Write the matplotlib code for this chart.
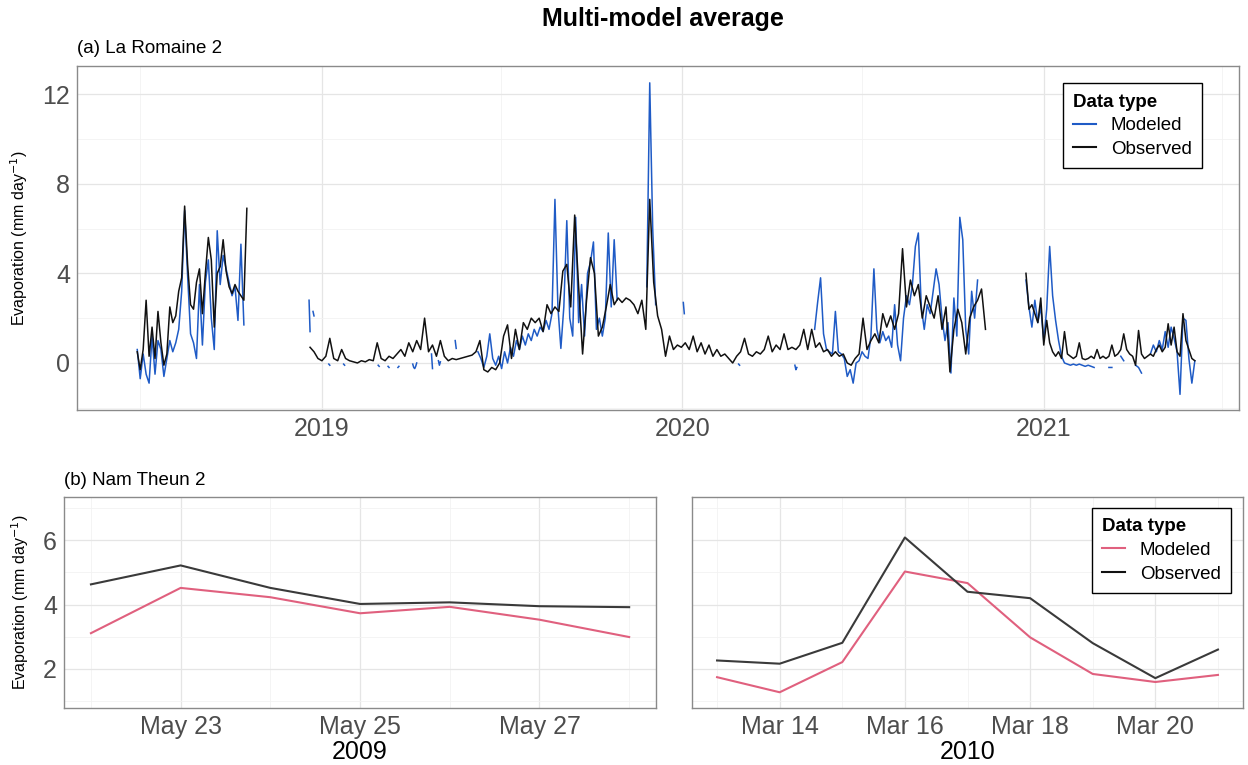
import numpy as np
import pandas as pd
import matplotlib
matplotlib.use("Agg")
import matplotlib.pyplot as plt
import matplotlib.dates as mdates
from matplotlib.lines import Line2D
from matplotlib.ticker import MultipleLocator

plt.rcParams['font.family'] = ['Liberation Sans', 'DejaVu Sans']

# ---- (a) La Romaine 2 : daily evaporation ----
# observed, summer 2018 (every 3 days)
obs_a_start = "2018-06-28"
obs_a = [0.5, -0.3, 0.6, 2.8, 0.3, 1.6, 0.2, 2.3, 0.9, -0.1,
         0.4, 2.5, 1.8, 2.1, 3.2, 3.8, 7.0, 4.4, 2.6, 2.4,
         3.6, 4.2, 2.2, 4.0, 5.6, 4.6, 1.6, 4.0, 4.3, 5.5,
         4.1, 3.4, 3.1, 3.5, 3.2, 3.0, 2.8, 6.9]
mod_a = [0.6, -0.7, 0.4, -0.5, -0.9, 1.2, -0.5, 1.0, 0.6, -0.6,
         0.2, 1.0, 0.5, 0.9, 1.5, 3.2, 6.8, 3.9, 1.3, 0.9,
         0.2, 3.5, 0.8, 3.6, 4.6, 2.0, 0.6, 5.9, 3.5, 4.8,
         4.2, 3.6, 3.0, 3.4, 1.9, 5.3, 1.7]

# observed, Dec 2018 - Nov 2020 (every 4 days)
obs_b_start = "2018-12-20"
obs_b = [0.7, 0.5, 0.2, 0.1, 0.3, 1.1, 0.2, 0.1, 0.6, 0.2,
         0.1, 0.05, 0.0, 0.1, 0.05, 0.15, 0.1, 0.9, 0.2, 0.1,
         0.3, 0.2, 0.4, 0.6, 0.3, 0.9, 0.5, 1.0, 0.6, 2.0,
         0.5, 0.8, 0.3, 1.0, 0.3, 0.1, 0.2, 0.15, 0.2, 0.25,
         0.3, 0.35, 0.5, 1.0, -0.3, -0.4, -0.2, -0.3, 0.0, 1.2,
         1.7, 0.2, 1.5, 0.6, 1.8, 1.5, 2.0, 1.8, 2.0, 1.4,
         2.6, 2.2, 2.5, 2.3, 4.1, 4.4, 2.5, 6.6, 3.4, 0.4,
         2.8, 4.7, 4.0, 1.2, 1.6, 2.5, 3.5, 2.6, 2.9, 2.7,
         2.9, 2.8, 2.6, 2.2, 2.8, 1.5, 7.3, 3.6, 2.1, 1.5,
         0.3, 1.2, 0.6, 0.8, 0.7, 0.9, 0.6, 1.2, 0.5, 0.9,
         0.4, 0.8, 0.3, 0.6, 0.3, 0.4, 0.2, 0.0, 0.3, 0.5,
         1.1, 0.4, 0.3, 0.5, 0.4, 0.6, 1.2, 0.5, 0.8, 0.6,
         1.3, 0.6, 0.7, 0.6, 0.8, 1.5, 0.6, 1.5, 0.7, 0.9,
         0.5, 0.6, 0.3, 0.5, 0.3, 0.4, 0.0, -0.1, 0.2, 0.4,
         2.0, 0.6, 1.0, 1.3, 0.9, 2.2, 1.6, 2.1, 1.5, 2.2,
         5.1, 2.5, 3.7, 3.0, 3.5, 2.0, 3.0, 2.5, 2.0, 3.0,
         1.5, 2.5, -0.4, 1.5, 2.4, 1.8, 0.4, 2.0, 2.5, 2.8,
         3.3, 1.5]

# modeled, open-water 2019 (every 3 days)
mod_b_start = "2019-06-08"
mod_b = [0.5, 0.2, -0.2, 0.3, 1.3, 0.2, -0.1, 0.3, -0.25, 0.5,
         0.0, 0.7, 0.3, 1.0, 0.6, 1.2, 0.8, 1.3, 1.0, 1.5,
         1.2, 1.6, 1.4, 1.9, 1.5, 2.2, 7.3, 2.5, 0.65, 2.5,
         6.35, 2.0, 1.2, 6.5, 1.8, 3.5, 1.2, 4.0, 4.5, 5.4,
         1.5, 2.0, 1.2, 2.0, 5.8, 2.5, 5.5, 2.8, np.nan, np.nan,
         np.nan, np.nan, np.nan, np.nan, np.nan, np.nan, np.nan, 3.4, 12.5, 6.0,
         2.6]

# modeled, open-water 2020 (every 3 days)
mod_c_start = "2020-05-14"
mod_c = [1.5, 2.7, 3.8, 1.3, 0.6, 0.5, 0.4, 2.3, 0.5, 0.4,
         0.2, -0.6, -0.3, -0.9, 0.0, 0.1, 0.5, 0.3, 0.2, 1.2,
         4.2, 1.5, 0.9, 1.4, 1.0, 1.2, 0.7, 2.6, 0.8, 0.1,
         2.0, 3.0, 2.6, 3.5, 5.2, 5.8, 2.5, 1.5, 2.6, 2.2,
         3.2, 4.2, 3.5, 2.0, 1.0, 1.8, -0.45, 2.9, 1.2, 6.5,
         5.5, 1.5, 0.4, 3.2, 2.0, 3.7]

# Dec 2020 - Jun 2021 (every 3 days)
c_start = "2020-12-14"
obs_c = [4.0, 2.4, 2.6, 2.2, 1.8, 2.9, 0.8, 1.9, 0.9, 0.5,
         0.3, 0.5, 0.2, 1.4, 0.4, 0.3, 0.2, 0.3, 0.9, 0.2,
         0.15, 0.2, 0.3, 0.2, 0.6, 0.2, 0.3, 0.2, 0.3, 0.8,
         0.3, 0.4, 0.6, 1.3, 0.6, 0.4, 0.3, -0.1, 1.45, 0.4,
         0.2, 0.3, 0.4, 0.3, 0.6, 0.8, 0.5, 0.7, 1.75, 0.8,
         1.6, 0.5, 0.3, 2.2, 1.0, 0.6, 0.2, 0.1]
mod_d = [3.7, 2.5, 1.6, 2.8, 1.8, 2.5, 1.0, 2.4, 5.2, 3.0,
         1.9, 1.0, 0.3, 0.0, -0.05, -0.1, -0.05, -0.1, -0.05, -0.1,
         -0.15, -0.1, -0.15, -0.2, np.nan, np.nan, -0.25, np.nan, -0.2, -0.2,
         np.nan, np.nan, 0.3, 0.1, np.nan, np.nan, np.nan, -0.1, -0.2, -0.45,
         np.nan, np.nan, 0.4, 0.8, 0.5, 1.0, 0.6, 1.4, 0.7, 1.6,
         1.1, 0.5, -1.4, 2.0, 1.9, 0.2, -0.9, 0.1]

# short modeled fragments during ice cover (daily)
bit_starts = ["2018-12-19", "2018-12-23", "2019-01-08", "2019-01-23", "2019-02-27",
              "2019-03-09", "2019-03-19", "2019-04-03", "2019-04-22", "2019-04-29",
              "2019-05-16", "2020-01-02", "2020-02-27", "2020-04-24"]
bit_values = [[2.8, 1.4], [2.3, 2.1], [-0.05, -0.1], [-0.05, -0.1], [-0.1, -0.15],
              [-0.15, -0.2], [-0.2, -0.15], [-0.05, -0.2, -0.25, -0.15, 0.0], [0.4, -0.25],
              [0.1, -0.1, 0.05], [1.0, 0.65], [2.7, 2.2], [-0.05, -0.1], [-0.1, -0.3, -0.2]]

# ---- (b) Nam Theun 2 ----
nt_2009_dates = ["2009-05-22", "2009-05-23", "2009-05-24", "2009-05-25",
                 "2009-05-26", "2009-05-27", "2009-05-28"]
nt_2009_obs = [4.63, 5.22, 4.52, 4.02, 4.07, 3.95, 3.92]
nt_2009_mod = [3.11, 4.52, 4.23, 3.73, 3.93, 3.53, 2.99]

nt_2010_dates = ["2010-03-13", "2010-03-14", "2010-03-15", "2010-03-16", "2010-03-17",
                 "2010-03-18", "2010-03-19", "2010-03-20", "2010-03-21"]
nt_2010_obs = [2.26, 2.16, 2.81, 6.09, 4.40, 4.20, 2.80, 1.71, 2.60]
nt_2010_mod = [1.74, 1.27, 2.21, 5.03, 4.67, 2.98, 1.84, 1.59, 1.81]

BLUE = "#1f5bc6"
PINK = "#e0607e"
DARK = "#111111"
GREY_OBS = "#3a3a3a"
TICK_COL = "#4d4d4d"


def seg(start, step, vals):
    return pd.date_range(start, periods=len(vals), freq=f"{step}D"), np.array(vals, float)


def style(ax):
    for s in ax.spines.values():
        s.set_color("#8a8a8a")
        s.set_linewidth(1.0)
    ax.grid(which="major", color="#e5e5e5", lw=0.9)
    ax.grid(which="minor", color="#f2f2f2", lw=0.6)
    ax.set_axisbelow(True)
    ax.tick_params(which="both", length=0, labelsize=18, labelcolor=TICK_COL, pad=5)


def legend(ax, col, x0, y1):
    hs = [Line2D([], [], color=col, lw=1.5), Line2D([], [], color=DARK, lw=1.5)]
    lg = ax.legend(hs, ["Modeled", "Observed"], title="Data type", loc="upper left",
                   bbox_to_anchor=(x0, y1), fontsize=13.5, title_fontsize=13.5,
                   frameon=True, fancybox=False, edgecolor="black", framealpha=1,
                   handlelength=1.2, handletextpad=0.8, borderpad=0.55,
                   labelspacing=0.35, borderaxespad=0, alignment="left")
    lg.get_title().set_fontweight("bold")
    lg.get_frame().set_linewidth(1.0)


fig = plt.figure(figsize=(12.48, 7.65), dpi=100)
fig.text(0.531, 0.975, "Multi-model average", ha="center", va="center",
         fontsize=18, fontweight="bold")

# top panel
ax = fig.add_axes([0.0617, 0.464, 0.9313, 0.4497])
style(ax)
ax.set_xlim(pd.Timestamp("2018-04-28"), pd.Timestamp("2021-07-18"))
ax.set_ylim(-2.1, 13.25)
ax.yaxis.set_major_locator(MultipleLocator(4))
ax.yaxis.set_minor_locator(MultipleLocator(2))
ax.xaxis.set_major_locator(mdates.YearLocator())
ax.xaxis.set_minor_locator(mdates.MonthLocator(bymonth=7))
ax.xaxis.set_major_formatter(mdates.DateFormatter("%Y"))

lw = 1.1
for start, step, vals in [(obs_a_start, 3, mod_a), (mod_b_start, 3, mod_b),
                          (mod_c_start, 3, mod_c), (c_start, 3, mod_d)]:
    d, v = seg(start, step, vals)
    ax.plot(d, v, color=BLUE, lw=lw)
for start, vals in zip(bit_starts, bit_values):
    d, v = seg(start, 1, vals)
    ax.plot(d, v, color=BLUE, lw=lw)
for start, step, vals in [(obs_a_start, 3, obs_a), (obs_b_start, 4, obs_b), (c_start, 3, obs_c)]:
    d, v = seg(start, step, vals)
    ax.plot(d, v, color=DARK, lw=lw)
ax.set_ylabel("Evaporation (mm day$^{-1}$)", fontsize=11.5, labelpad=9)
ax.text(0.0, 1.025, "(a) La Romaine 2", transform=ax.transAxes, fontsize=13.5,
        ha="left", va="bottom")
legend(ax, BLUE, 0.8485, 0.95)

# bottom left: 2009
bl = fig.add_axes([0.0513, 0.0745, 0.4744, 0.2758])
style(bl)
d09 = pd.to_datetime(nt_2009_dates)
bl.plot(d09, nt_2009_mod, color=PINK, lw=1.5)
bl.plot(d09, nt_2009_obs, color=GREY_OBS, lw=1.5)
bl.set_xlim(d09[0] - pd.Timedelta(hours=7.2), d09[-1] + pd.Timedelta(hours=7.2))
bl.set_ylim(0.78, 7.35)
bl.yaxis.set_major_locator(MultipleLocator(2))
bl.yaxis.set_minor_locator(MultipleLocator(1))
bl.xaxis.set_major_locator(mdates.DayLocator(bymonthday=[23, 25, 27]))
bl.xaxis.set_minor_locator(mdates.DayLocator(bymonthday=[22, 24, 26, 28]))
bl.xaxis.set_major_formatter(mdates.DateFormatter("%b %d"))
bl.set_xlabel("2009", fontsize=18, labelpad=1)
bl.set_ylabel("Evaporation (mm day$^{-1}$)", fontsize=11.5, labelpad=9)
bl.text(0.0, 1.04, "(b) Nam Theun 2", transform=bl.transAxes, fontsize=13.5,
        ha="left", va="bottom")

# bottom right: 2010
br = fig.add_axes([0.5545, 0.0745, 0.4415, 0.2758])
style(br)
d10 = pd.to_datetime(nt_2010_dates)
br.plot(d10, nt_2010_mod, color=PINK, lw=1.5)
br.plot(d10, nt_2010_obs, color=GREY_OBS, lw=1.5)
br.set_xlim(d10[0] - pd.Timedelta(hours=9.6), d10[-1] + pd.Timedelta(hours=9.6))
br.set_ylim(0.78, 7.35)
br.yaxis.set_major_locator(MultipleLocator(2))
br.yaxis.set_minor_locator(MultipleLocator(1))
br.set_yticklabels([])
br.xaxis.set_major_locator(mdates.DayLocator(bymonthday=[14, 16, 18, 20]))
br.xaxis.set_minor_locator(mdates.DayLocator(bymonthday=[13, 15, 17, 19, 21]))
br.xaxis.set_major_formatter(mdates.DateFormatter("%b %d"))
br.set_xlabel("2010", fontsize=18, labelpad=1)
legend(br, PINK, 0.726, 0.948)

fig.savefig("out.png", dpi=100)
